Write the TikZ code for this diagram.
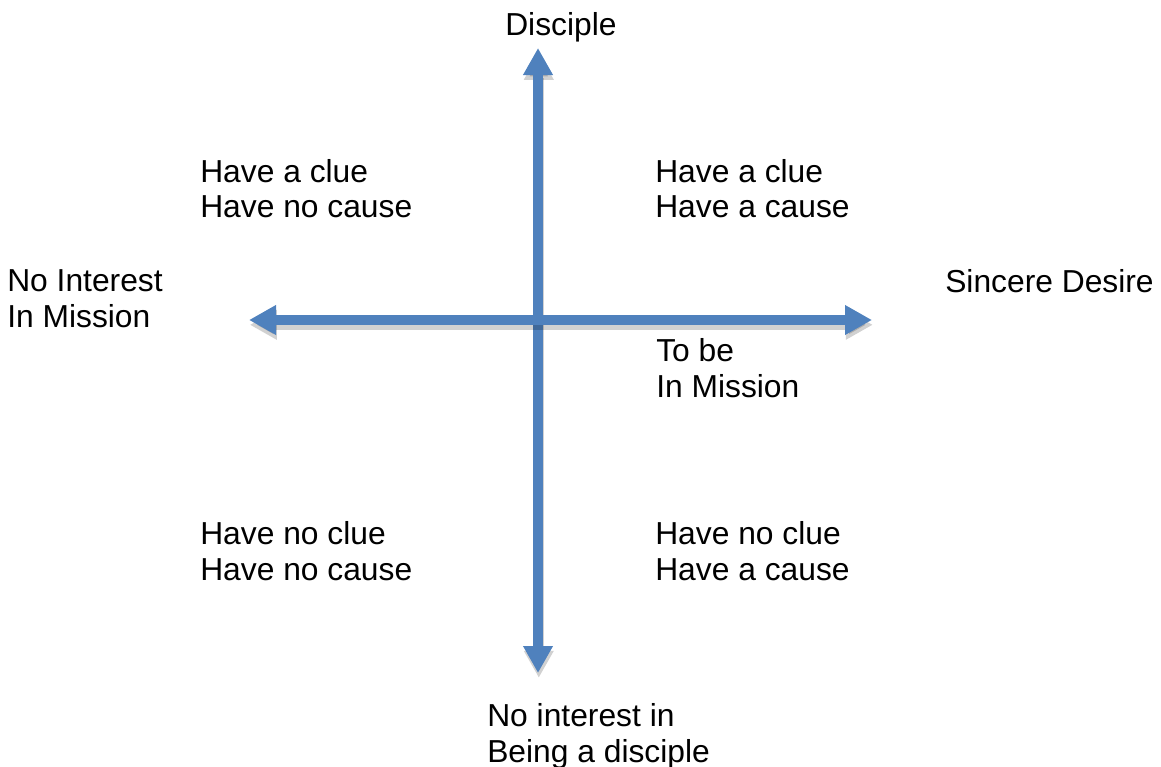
\documentclass[tikz,border=0pt]{standalone}
\usepackage{fontspec}
\setmainfont{Liberation Sans}
\usetikzlibrary{arrows.meta}
\definecolor{axis-blue}{HTML}{4F81BD}

\begin{document}
\begin{tikzpicture}[x=0.025cm,y=-0.025cm,
  lbl/.style={font=\fontsize{22.6}{25.3}\selectfont, inner sep=0pt, align=left, anchor=base west},
  axis/.style={line width=0.25cm, {Triangle[width=0.7cm,length=0.675cm]}-{Triangle[width=0.7cm,length=0.675cm]}},
  axisshadow/.style={axis, black, opacity=0.18, transform canvas={xshift=0.02cm,yshift=-0.12cm}}]

\useasboundingbox (0,0) rectangle (1161,767);

\coordinate (top) at (538,48);
\coordinate (bottom) at (538,673);
\coordinate (left) at (249,320);
\coordinate (right) at (872,320);

% axes with their shadows
\draw[axisshadow] (bottom) -- (top);
\draw[axis, axis-blue] (bottom) -- (top);
\draw[axisshadow] (left) -- (right);
\draw[axis, axis-blue] (left) -- (right);

% axis ends (two-line nodes sit on their last line)
\node[lbl] (disciple) at (505,36) {Disciple};
\node[lbl] (nodisciple) at (487,762) {No interest in\\Being a disciple};
\node[lbl] (nomission) at (7,327) {No Interest\\In Mission};
\node[lbl] (desire) at (945,292) {Sincere Desire};
\node[lbl] (tobe) at (656,397) {To be\\In Mission};

% quadrants
\node[lbl] (topleft) at (200,218) {Have a clue\\Have no cause};
\node[lbl] (topright) at (655,218) {Have a clue\\Have a cause};
\node[lbl] (botleft) at (200,580) {Have no clue\\Have no cause};
\node[lbl] (botright) at (655,580) {Have no clue\\Have a cause};

\end{tikzpicture}
\end{document}
